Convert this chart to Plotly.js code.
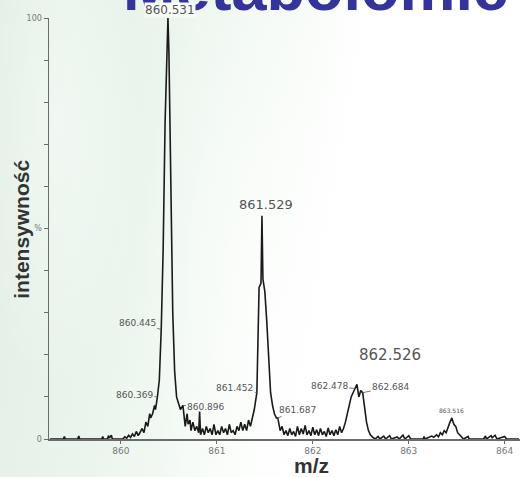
<!DOCTYPE html>
<html>
<head>
<meta charset="utf-8">
<script src="https://cdn.plot.ly/plotly-3.0.1.min.js"></script>
<style>
  html, body { margin: 0; padding: 0; }
  body {
    width: 523px; height: 477px; overflow: hidden;
    background:
      radial-gradient(ellipse 160px 520px at 250px 300px, rgba(255,255,255,0.55), rgba(255,255,255,0) 70%),
      radial-gradient(ellipse 120px 400px at 60px 120px, rgba(255,255,255,0.45), rgba(255,255,255,0) 70%),
      linear-gradient(100deg, #e2efe5 0%, #e9f4ec 25%, #f2f9f3 42%, #fbfdfb 55%, #ffffff 62%);
  }
  #chart { width: 523px; height: 477px; }
</style>
</head>
<body>
<div id="chart"></div>
<script>
// ---- data ----
const mz = [
  859.26, 859.40, 859.41, 859.42, 859.55, 859.56, 859.57, 859.80, 859.81, 859.82,
  859.86, 859.87, 859.88, 859.90, 859.91, 860.02, 860.04, 860.06, 860.08, 860.10,
  860.12, 860.14, 860.16, 860.18, 860.20, 860.22, 860.24, 860.26, 860.28, 860.30,
  860.31, 860.33, 860.35, 860.36, 860.38, 860.40, 860.42, 860.44, 860.46, 860.48,
  860.49, 860.50, 860.52, 860.54, 860.56, 860.58, 860.60, 860.62, 860.646, 860.66,
  860.67, 860.69, 860.70, 860.72, 860.73, 860.75, 860.77, 860.79, 860.81, 860.82,
  860.83, 860.85, 860.87, 860.89, 860.91, 860.93, 860.95, 860.97, 860.99, 861.01,
  861.03, 861.05, 861.07, 861.09, 861.11, 861.13, 861.15, 861.17, 861.19, 861.21,
  861.23, 861.25, 861.27, 861.29, 861.31, 861.33, 861.35, 861.37, 861.39, 861.417,
  861.43, 861.44, 861.46, 861.47, 861.48, 861.50, 861.52, 861.54, 861.56, 861.58,
  861.60, 861.62, 861.635, 861.66, 861.68, 861.70, 861.72, 861.74, 861.76, 861.78,
  861.80, 861.82, 861.84, 861.86, 861.88, 861.90, 861.92, 861.94, 861.96, 861.98,
  862.00, 862.02, 862.04, 862.06, 862.08, 862.10, 862.12, 862.14, 862.16, 862.18,
  862.20, 862.22, 862.24, 862.26, 862.28, 862.30, 862.32, 862.34, 862.36, 862.38,
  862.40, 862.44, 862.46, 862.48, 862.50, 862.52, 862.54, 862.56, 862.58, 862.60,
  862.62, 862.65, 862.68, 862.70, 862.74, 862.76, 862.80, 862.82, 862.88, 862.90,
  862.94, 862.96, 863.00, 863.02, 863.15, 863.16, 863.17, 863.24, 863.26, 863.29,
  863.31, 863.33, 863.35, 863.37, 863.39, 863.41, 863.43, 863.45, 863.47, 863.49,
  863.51, 863.53, 863.55, 863.57, 863.62, 863.63, 863.78, 863.80, 863.81, 863.86,
  863.87, 863.90, 863.92, 864.00, 864.02, 864.15
];
const intensity = [
  0, 0, 0.6, 0, 0, 0.7, 0, 0, 0.6, 0,
  0, 0.8, 0.2, 0.9, 0, 0, 0.5, 0.2, 0.9, 0.4,
  1.2, 0.6, 1.8, 0.8, 1.6, 2.5, 1.5, 4, 3, 6,
  5, 6, 8, 7, 10, 14, 26, 45, 75, 97,
  100, 92, 60, 30, 16, 10, 8.5, 7, 8, 5,
  3, 6, 3.5, 4.5, 2, 4, 2, 3, 1.5, 6.5,
  1, 2.5, 1, 3, 1.5, 2.5, 1, 3.5, 1, 2,
  1, 3, 1.5, 2.5, 1, 3.5, 1.5, 2, 1, 3,
  2, 4, 2, 3.5, 2, 4.5, 3, 5, 7, 11,
  22, 36, 37, 53, 38, 35, 28, 18, 11, 8,
  6, 5, 5, 2, 3, 1, 2, 0.8, 2.5, 1,
  1.8, 0.6, 3, 1, 2.5, 1.2, 3.2, 1, 2, 0.8,
  2.8, 1, 2.2, 0.8, 2.5, 1, 1.8, 0.6, 2.6, 1,
  2, 0.8, 2.2, 1, 3, 1.5, 2.5, 4, 6, 8,
  10, 12, 13, 10, 11.5, 11, 7, 4, 2, 1,
  0.5, 0, 0.6, 0, 0.7, 0, 0.8, 0, 0.5, 0,
  0.9, 0, 0.8, 0, 0, 0.6, 0, 0.7, 0.4, 1,
  0.5, 1.5, 1, 2, 1.5, 3, 4, 5, 3.5, 3,
  1.5, 1, 0.5, 0, 0.6, 0, 0, 0.7, 0, 0.8,
  0.3, 0.9, 0, 0.6, 0, 0
];

// peak labels: text, position (m/z, intensity) of the labelled point
const peakLabels = ["860.531", "861.529", "862.526", "860.445", "860.369", "860.896",
                    "861.452", "861.687", "862.478", "862.684", "863.516"];
const peakMz = [860.49, 861.47, 862.46, 860.42, 860.38, 860.646,
                861.417, 861.635, 862.44, 862.52, 863.45];
const peakInt = [100, 53, 13, 26, 10, 8, 11, 5, 12, 11, 5];

const xTickVals = [860, 861, 862, 863, 864];
const xTickText = ["860", "861", "862", "863", "864"];
const yTickVals = [0, 10, 20, 30, 40, 50, 60, 70, 80, 90, 100];
const yTickText = ["0", "", "", "", "", "%", "", "", "", "", "100"];

const chartTitle = "Metabolomic";
const xTitle = "m/z";
const yTitle = "intensywność";

// ---- styling of labels (offsets in pixels) ----
const labelStyle = [
  {size: 12, arrow: false, xs: 2, ys: 0, anchor: "bottom", bg: "#f7fbf8"},
  {size: 13, arrow: false, xs: 4, ys: 2, anchor: "bottom"},
  {size: 15, arrow: false, xs: 33, ys: 29, anchor: "middle"},
  {size: 9, arrow: true, ax: -24, ay: -7},
  {size: 9, arrow: true, ax: -23, ay: -2},
  {size: 9, arrow: true, ax: 23, ay: 2},
  {size: 9, arrow: true, ax: -22, ay: -5},
  {size: 9, arrow: true, ax: 20, ay: -8},
  {size: 9, arrow: true, ax: -26, ay: -2},
  {size: 9, arrow: true, ax: 28, ay: -6},
  {size: 6, arrow: false, xs: 0, ys: 2, anchor: "bottom"}
];

const annotations = [];

annotations.push({
  text: chartTitle, xref: "paper", yref: "paper", x: 0.565, y: 0.984,
  xanchor: "center", yanchor: "bottom", showarrow: false,
  font: {family: "Liberation Sans, Arial, sans-serif", size: 63, color: "#34349a", weight: "bold"}
});

peakLabels.forEach((t, i) => {
  const s = labelStyle[i];
  const a = {
    x: peakMz[i], y: peakInt[i], xref: "x", yref: "y", text: t,
    font: {family: "DejaVu Sans, Arial, sans-serif", size: s.size, color: "#555"},
    showarrow: s.arrow
  };
  if (s.bg) { a.bgcolor = s.bg; a.borderpad = 0; }
  if (s.arrow) {
    Object.assign(a, {ax: s.ax, ay: s.ay, arrowhead: 0, arrowwidth: 0.8,
                      arrowcolor: "#555", standoff: 0, startstandoff: 0});
  } else {
    Object.assign(a, {xshift: s.xs, yshift: s.ys, yanchor: s.anchor});
  }
  annotations.push(a);
});

// axis titles placed as in the reference
annotations.push({
  text: xTitle, xref: "paper", yref: "paper", x: 0.558, y: -0.0625,
  xanchor: "center", yanchor: "middle", showarrow: false, borderpad: 0,
  font: {family: "Liberation Sans, Arial, sans-serif", size: 21, color: "#333", weight: "bold"}
});
annotations.push({
  text: yTitle, xref: "paper", yref: "paper", x: -0.0573, y: 0.497,
  xanchor: "center", yanchor: "middle", showarrow: false, textangle: -90,
  font: {family: "Liberation Sans, Arial, sans-serif", size: 21, color: "#333", weight: "bold"}
});

const trace = {
  x: mz, y: intensity, type: "scatter", mode: "lines",
  line: {color: "#1a1a1a", width: 1.6},
  hoverinfo: "x+y"
};

const layout = {
  width: 523, height: 477,
  margin: {l: 49, r: 3, t: 18, b: 38},
  paper_bgcolor: "rgba(0,0,0,0)",
  plot_bgcolor: "rgba(0,0,0,0)",
  showlegend: false,
  xaxis: {
    range: [859.25, 864.16], showgrid: false, zeroline: false,
    showline: true, linecolor: "#6b6b6b", linewidth: 1.5,
    tickvals: xTickVals, ticktext: xTickText,
    ticks: "outside", ticklen: 3, tickcolor: "#6b6b6b",
    tickfont: {family: "DejaVu Sans, Arial, sans-serif", size: 9, color: "#777"}
  },
  yaxis: {
    range: [0, 100], showgrid: false, zeroline: false,
    showline: true, linecolor: "#6b6b6b", linewidth: 1.5,
    tickvals: yTickVals, ticktext: yTickText,
    ticks: "outside", ticklen: 4, tickcolor: "#6b6b6b",
    tickfont: {family: "DejaVu Sans, Arial, sans-serif", size: 8, color: "#777"}
  },
  annotations: annotations
};

Plotly.newPlot("chart", [trace], layout, {displayModeBar: false, staticPlot: true});
</script>
</body>
</html>
